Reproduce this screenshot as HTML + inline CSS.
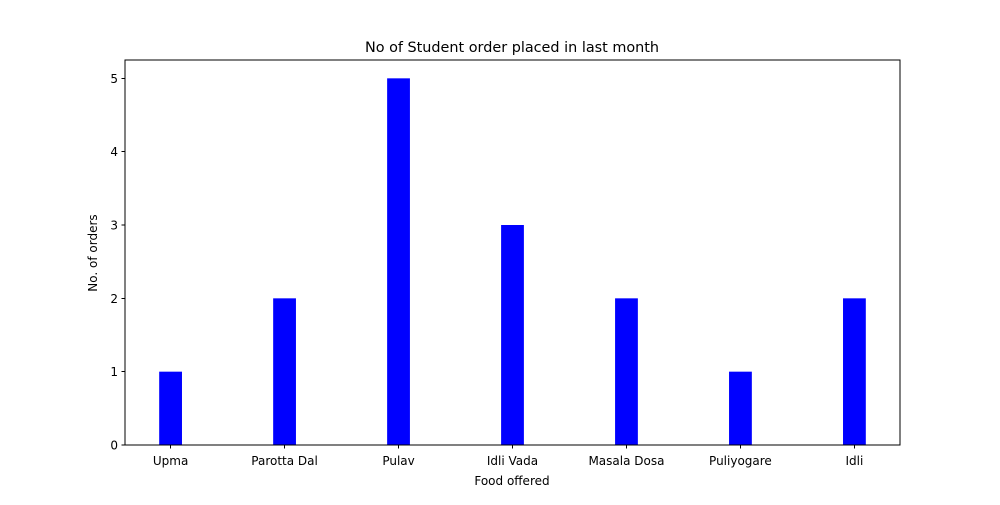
<!DOCTYPE html>
<html><head><meta charset="utf-8"><style>
body{margin:0;background:#fff;}
svg text{font-family:"DejaVu Sans","Liberation Sans",sans-serif;fill:#000;}
</style></head><body>
<svg id="chart" width="1000" height="500">
<rect width="1000" height="500" fill="#fff"/>
<text x="512" y="52" text-anchor="middle" font-size="14.4">No of Student order placed in last month</text>
<g id="bars"></g>
<g id="axes" shape-rendering="crispEdges"></g>
<text x="512" y="485" text-anchor="middle" font-size="12">Food offered</text>
<text transform="translate(97,253) rotate(-90)" text-anchor="middle" font-size="12">No. of orders</text>
</svg>
<script>
const categories=["Upma","Parotta Dal","Pulav","Idli Vada","Masala Dosa","Puliyogare","Idli"];
const values=[1,2,5,3,2,1,2];
const yTicks=[0,1,2,3,4,5];
const L=125,R=900,T=60,B=445,yMax=5.25;
const n=categories.length;
const xMin=-0.4,xMax=n-1+0.4;
const xs=i=>L+(i-xMin)/(xMax-xMin)*(R-L);
const ys=v=>B-v/yMax*(B-T);
const bw=0.2*(R-L)/(xMax-xMin);
const ns="http://www.w3.org/2000/svg";
const bars=document.getElementById('bars'),axes=document.getElementById('axes');
function mk(tag,attrs,parent){const e=document.createElementNS(ns,tag);for(const k in attrs)e.setAttribute(k,attrs[k]);parent.appendChild(e);return e;}
values.forEach((v,i)=>{
 const r=mk('rect',{x:xs(i)-bw/2,y:ys(v),width:bw,height:B-ys(v),fill:'#0000ff'},bars);
 
 
 mk('line',{x1:xs(i),x2:xs(i),y1:B,y2:B+3.5,stroke:'#000','stroke-width':1},axes);
 const t=mk('text',{x:xs(i),y:B+20,'text-anchor':'middle','font-size':12},axes);
 t.textContent=categories[i];
 
 
});
yTicks.forEach(v=>{
 mk('line',{x1:L-3.5,x2:L,y1:ys(v),y2:ys(v),stroke:'#000','stroke-width':1},axes);
 const t=mk('text',{x:L-7,y:ys(v)+4.5,'text-anchor':'end','font-size':12},axes);
 t.textContent=v;
 
 
});
const f=mk('rect',{x:L,y:T,width:R-L,height:B-T,fill:'none',stroke:'#000','stroke-width':1},axes);


</script>
</body></html>
